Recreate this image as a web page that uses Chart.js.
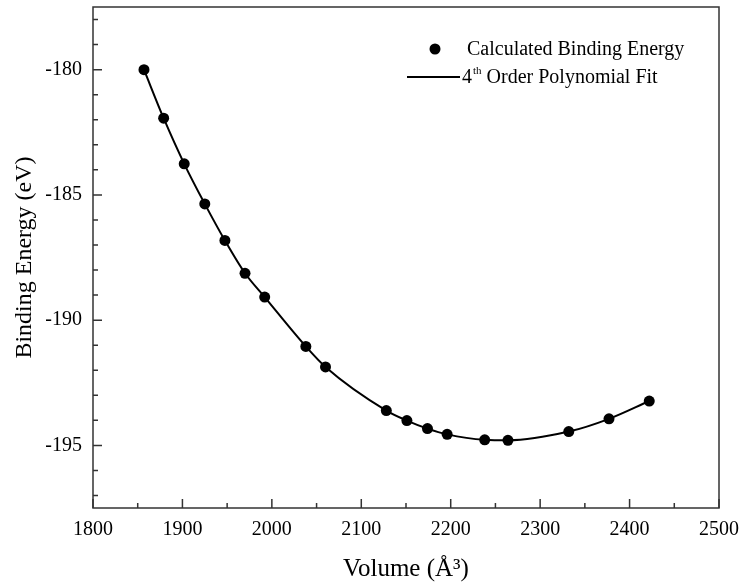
<!DOCTYPE html>
<html>
<head>
<meta charset="utf-8">
<script src="https://cdn.jsdelivr.net/npm/chart.js@4"></script>
<style>
  html, body { margin: 0; padding: 0; background: #fff; }
  #wrap { width: 741px; height: 586px; }
</style>
</head>
<body>
<div id="wrap"><canvas id="chart"></canvas></div>
<script>
// --------------------------- Data

const volume = [1857, 1879, 1902, 1925, 1947.5, 1970, 1992, 2038, 2060,
                2128, 2151, 2174, 2196, 2238, 2264, 2332, 2377, 2422];
const energy = [-180.0, -181.94, -183.76, -185.36, -186.82, -188.13, -189.08, -191.05, -191.87,
                -193.61, -194.01, -194.33, -194.56, -194.78, -194.80, -194.45, -193.94, -193.23];

const xTickLabels = [1800, 1900, 2000, 2100, 2200, 2300, 2400, 2500];
const yTickLabels = [-180, -185, -190, -195];

const seriesLabels = ['Calculated Binding Energy', '4th Order Polynomial Fit'];

// ---------------------------

const FONT = "'Liberation Serif', 'Times New Roman', serif";
const INK = '#000';
const AXIS = '#333';

const points = volume.map((v, i) => ({ x: v, y: energy[i] }));

// ticks every `step` between the axis limits (majors + minors)
function stepTicks(min, max, step) {
    let out = [];
    for (let v = Math.ceil(min / step) * step; v <= max + 1e-9; v += step) {
        out.push({ value: Math.round(v * 1000) / 1000 });
    }
    return out;
}

// inward ticks, full frame and the boxed-in legend
const framePlugin = {
    id: 'frame',
    afterDraw(chart) {
        const ctx = chart.ctx;
        const area = chart.chartArea;
        const xs = chart.scales.x;
        const ys = chart.scales.y;

        ctx.save();
        ctx.strokeStyle = AXIS;
        ctx.lineWidth = 1.5;
        ctx.strokeRect(area.left, area.top, area.right - area.left, area.bottom - area.top);

        ctx.beginPath();
        xs.ticks.forEach(t => {
            const len = xTickLabels.includes(t.value) ? 9 : 5;
            const px = xs.getPixelForValue(t.value);
            ctx.moveTo(px, area.bottom);
            ctx.lineTo(px, area.bottom - len);
        });
        ys.ticks.forEach(t => {
            const len = yTickLabels.includes(t.value) ? 9 : 5;
            const py = ys.getPixelForValue(t.value);
            ctx.moveTo(area.left, py);
            ctx.lineTo(area.left + len, py);
        });
        ctx.stroke();

        // legend
        const lx = area.left + 342;
        const ly = area.top + 42;
        const ds = chart.data.datasets;
        ctx.fillStyle = INK;
        ctx.beginPath();
        ctx.arc(lx, ly, ds[0].pointRadius, 0, Math.PI * 2);
        ctx.fill();

        ctx.font = '20px ' + FONT;
        ctx.textBaseline = 'middle';
        ctx.fillText(ds[0].label, lx + 32, ly + 1);

        ctx.strokeStyle = INK;
        ctx.lineWidth = ds[1].borderWidth;
        ctx.beginPath();
        ctx.moveTo(lx - 28, ly + 28);
        ctx.lineTo(lx + 25, ly + 28);
        ctx.stroke();

        // "4th" with a raised "th"
        const label2 = ds[1].label;
        let tx = lx + 27;
        const ty = ly + 29;
        ctx.fillText(label2.slice(0, 1), tx, ty);
        tx += ctx.measureText(label2.slice(0, 1)).width + 1;
        ctx.font = '11px ' + FONT;
        ctx.fillText(label2.slice(1, 3), tx, ty - 7);
        tx += ctx.measureText(label2.slice(1, 3)).width;
        ctx.font = '20px ' + FONT;
        ctx.fillText(label2.slice(3), tx, ty);
        ctx.restore();
    }
};

const options = {
    responsive: true,
    maintainAspectRatio: false,
    animation: false,
    layout: {
        padding: { top: 7, right: 22, left: 0, bottom: 0 }
    },
    plugins: {
        legend: { display: false },
        tooltip: { enabled: false },
    },
    scales: {
        x: {
            type: 'linear',
            min: 1800,
            max: 2500,
            afterBuildTicks: function(scale) { scale.ticks = stepTicks(scale.min, scale.max, 50); },
            afterFit: function(scale) {
                scale.height = 78;
                scale.paddingLeft = 0;
                scale.paddingRight = 0;
            },
            grid: { display: false, drawTicks: false },
            border: { display: false },
            ticks: {
                autoSkip: false,
                maxRotation: 0,
                padding: 10,
                color: INK,
                font: { family: FONT, size: 20 },
                callback: function(val) {
                    return xTickLabels.includes(val) ? String(val) : '';
                }
            },
            title: {
                display: true,
                text: 'Volume (Å³)',
                color: INK,
                font: { family: FONT, size: 25 },
                padding: { top: 0, bottom: 2 }
            }
        },
        y: {
            type: 'linear',
            min: -197.5,
            max: -177.5,
            afterBuildTicks: function(scale) { scale.ticks = stepTicks(scale.min, scale.max, 1); },
            afterFit: function(scale) {
                scale.width = 93;
                scale.paddingTop = 0;
                scale.paddingBottom = 0;
            },
            grid: { display: false, drawTicks: false },
            border: { display: false },
            ticks: {
                autoSkip: false,
                padding: 11,
                color: INK,
                font: { family: FONT, size: 20 },
                callback: function(val) {
                    return yTickLabels.includes(val) ? String(val) : '';
                }
            },
            title: {
                display: true,
                text: 'Binding Energy (eV)',
                color: INK,
                font: { family: FONT, size: 24 },
                padding: { top: 10, bottom: 0 }
            }
        }
    }
};

const config = {
    type: 'scatter',
    data: {
        datasets: [
            {
                label: seriesLabels[0],
                data: points,
                showLine: false,
                pointRadius: 5.5,
                pointBackgroundColor: INK,
                pointBorderColor: INK,
                pointBorderWidth: 0,
                order: 0
            },
            {
                label: seriesLabels[1],
                data: points,
                showLine: true,
                pointRadius: 0,
                borderColor: INK,
                borderWidth: 2,
                cubicInterpolationMode: 'monotone',
                fill: false,
                order: 1
            }
        ]
    },
    options: options,
    plugins: [framePlugin]
};

const main_chart = new Chart(document.getElementById('chart'), config);
</script>
</body>
</html>
